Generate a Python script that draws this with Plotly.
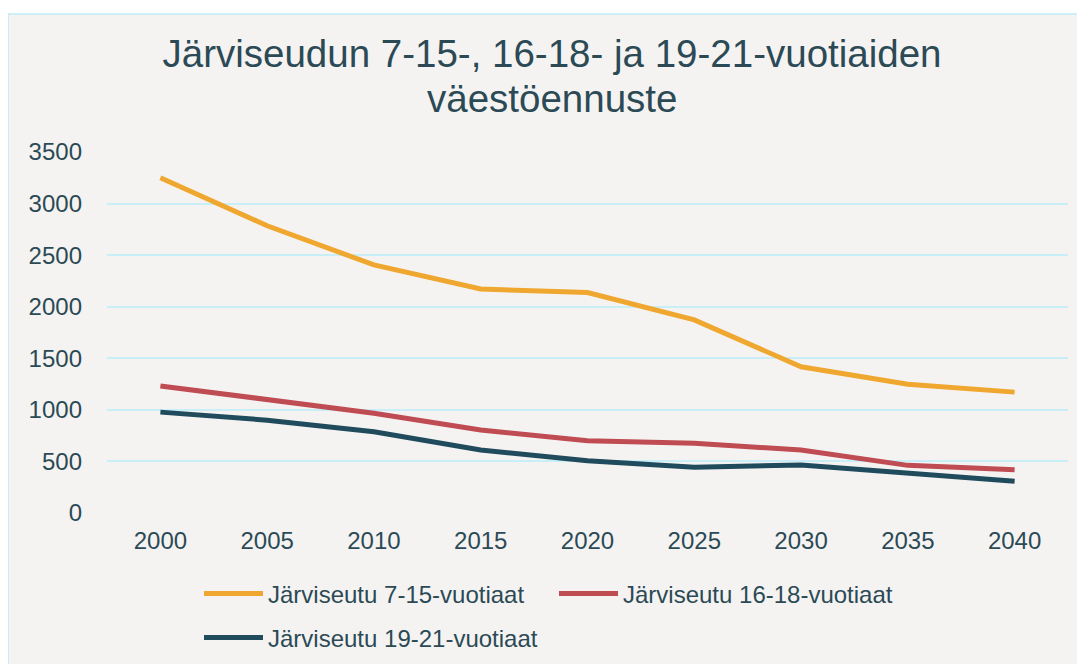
import plotly.graph_objects as go

years = ["2000", "2005", "2010", "2015", "2020", "2025", "2030", "2035", "2040"]
age_7_15 = [3250, 2785, 2405, 2172, 2137, 1872, 1418, 1249, 1172]
age_16_18 = [1232, 1100, 968, 805, 700, 676, 611, 462, 420]
age_19_21 = [978, 900, 788, 611, 506, 443, 465, 385, 307]

names = ["Järviseutu 7-15-vuotiaat", "Järviseutu 16-18-vuotiaat", "Järviseutu 19-21-vuotiaat"]
colors = ["#EFA72F", "#BF4B53", "#1F4B5C"]
y_ticks = [0, 500, 1000, 1500, 2000, 2500, 3000, 3500]
title_line1 = "Järviseudun 7-15-, 16-18- ja 19-21-vuotiaiden"
title_line2 = "väestöennuste"

TEXT = "#2B4A55"
FONT = "Liberation Sans, Arial, sans-serif"

fig = go.Figure()
for vals, name, col, lg in zip([age_7_15, age_16_18, age_19_21], names, colors,
                               ["legend", "legend", "legend2"]):
    fig.add_trace(go.Scatter(x=years, y=vals, mode="lines", name=name,
                             line=dict(color=col, width=5), legend=lg))

# page body has an 8px offset; figure coordinates = screen - 8
L, R, T, B = 99, 25, 144, 159
W, H = 1085, 664
pw = W - L - R
ph = H - T - B

def px_x(x):
    return (x - L) / pw

def px_y(y):
    return (H - B - y) / ph

fig.add_shape(type="rect", xref="paper", yref="paper",
              x0=px_x(0), x1=px_x(1100), y0=px_y(6), y1=px_y(690),
              fillcolor="#F5F3F2", line=dict(color="#BDEBF7", width=1.5),
              layer="below")

fig.add_annotation(text=title_line2, xref="paper", yref="paper",
                   x=px_x(544), y=px_y(114), xanchor="center", yanchor="bottom",
                   showarrow=False, font=dict(family=FONT, size=38.5, color=TEXT))

legend_common = dict(orientation="h", bgcolor="rgba(0,0,0,0)",
                     font=dict(family=FONT, size=24, color=TEXT),
                     itemwidth=59, entrywidth=281, entrywidthmode="pixels",
                     xref="container", yref="container",
                     xanchor="left", yanchor="middle", tracegroupgap=0)

fig.update_layout(
    width=W, height=H,
    margin=dict(l=L, r=R, t=T, b=B),
    paper_bgcolor="white",
    plot_bgcolor="#F5F3F2",
    font=dict(family=FONT, color=TEXT),
    title=dict(text=title_line1,
               x=544 / W, xref="container", xanchor="center",
               y=1 - 32 / H, yref="container", yanchor="top",
               font=dict(family=FONT, size=38.5, color=TEXT)),
    showlegend=True,
    legend=dict(x=191 / W, y=1 - 586 / H, **legend_common),
    legend2=dict(x=191 / W, y=1 - 630 / H, **legend_common),
    xaxis=dict(type="category", range=[-0.5, 8.5], showgrid=False, zeroline=False,
               showline=False, ticks="", ticklabelstandoff=11,
               tickfont=dict(family=FONT, size=24, color=TEXT)),
    yaxis=dict(range=[0, 3500], tickvals=y_ticks, showgrid=True,
               gridcolor="#C8EEF8", gridwidth=1.5, zeroline=False, showline=False,
               ticks="", ticklabelstandoff=24,
               tickfont=dict(family=FONT, size=24, color=TEXT)),
)

fig.write_html("out.html")
